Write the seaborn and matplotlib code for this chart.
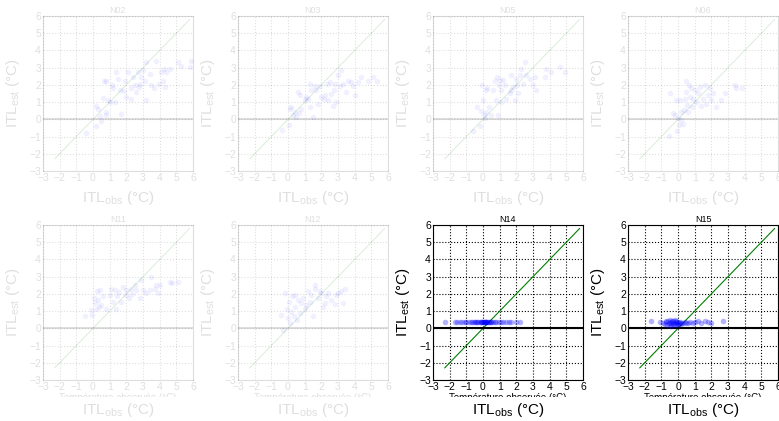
import matplotlib
matplotlib.use("Agg")
import pandas as pd
import matplotlib.pyplot as plt
import seaborn as sns
from matplotlib.patches import Rectangle

# station panels, in grid order
STATIONS = ["N02", "N03", "N05", "N06", "N11", "N12", "N14", "N15"]
HIGHLIGHT = ["N14", "N15"]
TICKS = [-3, -2, -1, 0, 1, 2, 3, 4, 5, 6]
DIAG = [-2.3, 5.8]

n02_obs = [-0.4, 0.2, 0.2, 0.3, 0.4, 0.5, 0.6, 0.65, 0.75, 0.8, 0.75, 0.9, 1.0, 1.15, 1.3, 1.4,
           1.2, 1.5, 1.6, 1.7, 1.85, 1.9, 2.0, 2.1, 2.25, 2.3, 2.4, 2.5, 2.6, 2.7, 2.75, 2.8,
           2.9, 3.0, 3.1, 3.2, 3.2, 3.4, 3.5, 3.65, 3.8, 3.95, 4.1, 4.2, 4.25, 4.3, 4.4, 4.6,
           5.1, 5.3, 5.8, 5.9]
n02_est = [-0.8, -0.4, 0.75, 0.6, 0.2, -0.1, 1.25, 2.2, 2.25, 0.4, 0.25, 1.1, 1.0, 2.0, 1.0, 2.75,
           1.8, 2.35, 1.7, 0.3, 1.65, 2.25, 1.3, 2.75, 1.8, 1.2, 2.45, 2.0, 1.6, 2.75, 1.85, 2.05,
           2.45, 2.85, 2.25, 1.1, 3.3, 2.65, 2.0, 1.8, 3.4, 2.05, 2.75, 2.25, 2.95, 1.9, 2.75, 2.95,
           3.3, 3.1, 3.05, 3.4]

n03_obs = [-0.35, 0.05, 0.1, 0.2, 0.3, 0.4, 0.5, 0.6, 0.65, 0.7, 0.8, 1.0, 1.1, 1.2, 1.3, 1.35,
           1.4, 1.5, 1.6, 1.7, 1.8, 1.9, 2.0, 2.15, 2.25, 2.35, 2.4, 2.5, 2.6, 2.7, 2.75, 2.8,
           2.9, 3.0, 3.1, 3.2, 3.3, 3.5, 3.6, 3.8, 3.9, 4.0, 4.2, 4.4, 4.8, 5.1, 5.35]
n03_est = [-0.6, -0.35, 0.6, 0.7, 0.25, 0.4, 0.15, 1.6, 0.35, 1.4, 0.6, 1.1, 1.3, 1.2, 2.05, 0.7,
           1.7, 0.15, 1.95, 1.7, 0.9, 1.95, 1.3, 1.2, 1.4, 2.05, 1.1, 2.15, 1.45, 0.8, 1.7, 2.05,
           1.0, 2.55, 1.95, 2.85, 2.05, 1.6, 2.25, 2.15, 1.95, 1.4, 2.15, 2.45, 2.25, 2.45, 2.2]

n05_obs = [-0.6, -0.35, -0.2, -0.1, -0.05, 0.0, 0.05, 0.1, 0.15, 0.2, 0.25, 0.35, 0.5, 0.6, 0.7, 0.75,
           0.85, 0.9, 0.95, 1.0, 1.05, 1.1, 1.2, 1.3, 1.4, 1.6, 1.65, 1.7, 1.8, 1.9, 1.95, 2.05,
           2.1, 2.2, 2.3, 2.4, 2.5, 2.6, 2.8, 3.0, 3.1, 3.2, 3.7, 3.8, 4.1, 4.6, 4.9]
n05_est = [-0.7, 0.7, -0.4, 0.5, 2.0, 1.1, 0.25, 0.05, 1.7, 0.4, 1.8, 0.7, 0.25, 1.7, 2.25, 1.1,
           2.45, 0.25, 2.0, 2.3, 1.0, 1.7, 2.3, 2.0, 1.2, 1.5, 1.7, 2.55, 1.9, 1.1, 2.35, 2.0,
           1.5, 2.55, 2.95, 2.05, 3.35, 2.55, 2.35, 2.0, 2.45, 1.7, 2.45, 2.95, 2.75, 3.05, 2.75]

n06_obs = [-0.55, -0.5, -0.3, -0.2, -0.15, -0.05, 0.0, 0.05, 0.1, 0.15, 0.2, 0.3, 0.35, 0.4, 0.45, 0.5,
           0.55, 0.6, 0.65, 0.7, 0.8, 0.85, 0.9, 1.0, 1.1, 1.2, 1.3, 1.4, 1.5, 1.6, 1.7, 1.8,
           1.9, 2.0, 2.1, 2.3, 2.6, 2.8, 3.4, 3.5, 3.85]
n06_est = [-0.95, 1.5, 0.35, 0.25, 1.1, -0.65, 0.05, -0.35, 1.1, 0.45, -0.05, -0.25, 0.55, 1.2, 2.25, 1.6,
           0.85, 0.45, 2.0, 1.3, 1.8, 0.7, 1.2, 1.7, 1.0, 1.5, 1.9, 0.8, 1.2, 2.0, 0.9, 1.4,
           1.8, 1.1, 1.5, 0.7, 1.1, 1.5, 2.0, 1.8, 1.8]

n11_obs = [-0.5, -0.1, -0.05, 0.05, 0.1, 0.15, 0.25, 0.3, 0.35, 0.4, 0.5, 0.6, 0.8, 1.0, 1.1, 1.2,
           1.3, 1.35, 1.45, 1.55, 1.7, 1.8, 1.95, 2.0, 2.15, 2.25, 2.35, 2.5, 2.6, 2.8, 2.9, 3.0,
           3.2, 3.4, 3.5, 3.7, 3.8, 3.9, 4.0, 4.6, 4.75, 5.1]
n11_est = [0.7, 1.05, 0.8, 1.75, 1.45, 1.15, 2.15, 1.65, 1.25, 2.25, 1.35, 1.85, 1.15, 1.95, 2.3, 1.55,
           2.2, 1.15, 1.85, 2.1, 1.55, 2.4, 2.2, 1.95, 1.75, 2.3, 2.0, 2.5, 2.2, 1.75, 2.8, 2.2,
           2.05, 2.2, 3.0, 2.3, 2.5, 2.05, 2.5, 2.7, 2.65, 2.7]

n12_obs = [-0.4, -0.3, -0.15, -0.05, 0.0, 0.05, 0.1, 0.2, 0.25, 0.35, 0.4, 0.45, 0.55, 0.6, 0.7, 0.8,
           0.9, 1.0, 1.1, 1.2, 1.3, 1.4, 1.5, 1.6, 1.65, 1.8, 1.9, 2.0, 2.1, 2.2, 2.3, 2.4,
           2.6, 2.8, 2.9, 3.0, 3.2, 3.3, 3.4]
n12_est = [0.8, -0.1, 2.05, 1.15, 0.6, 1.55, 0.3, 0.95, 1.85, 0.7, 1.95, 1.25, 0.5, 1.65, 0.9, 1.45,
           1.75, 1.15, 1.35, 2.15, 1.55, 1.95, 0.7, 2.5, 2.3, 1.75, 2.15, 2.05, 1.25, 1.45, 1.85, 2.05,
           1.65, 1.4, 1.95, 2.05, 2.15, 1.45, 2.3]

n14_obs = [-2.3, -1.7, -1.55, -1.4, -1.25, -1.1, -1.0, -0.85, -0.75, -0.65, -0.55, -0.5, -0.4, -0.35,
           -0.3, -0.2, -0.15, -0.1, -0.05, 0.0, 0.0, 0.05, 0.1, 0.1, 0.15, 0.2, 0.2, 0.25, 0.3, 0.35,
           0.4, 0.45, 0.5, 0.6, 0.7, 0.8, 0.95, 1.05, 1.2, 1.35, 1.55, 1.7, 2.0, 2.2]
n14_est = [0.38, 0.38, 0.37, 0.38, 0.37, 0.38, 0.36, 0.38, 0.37, 0.38, 0.36, 0.39, 0.37, 0.35,
           0.38, 0.36, 0.39, 0.35, 0.37, 0.38, 0.35, 0.37, 0.39, 0.36, 0.37, 0.35, 0.38, 0.37, 0.36, 0.38,
           0.37, 0.38, 0.36, 0.37, 0.38, 0.37, 0.38, 0.37, 0.38, 0.37, 0.38, 0.37, 0.38, 0.38]

n15_obs = [-1.6, -1.1, -0.9, -0.8, -0.75, -0.7, -0.65, -0.6, -0.55, -0.5, -0.5, -0.45, -0.4, -0.4,
           -0.35, -0.3, -0.3, -0.25, -0.2, -0.2, -0.15, -0.1, -0.1, -0.05, 0.0, 0.0, 0.05, 0.1, 0.15,
           0.2, 0.3, 0.4, 0.5, 0.6, 0.7, 0.9, 1.0, 1.2, 1.4, 1.6, 1.8, 2.0, 2.7]
n15_est = [0.4, 0.38, 0.3, 0.25, 0.45, 0.35, 0.2, 0.42, 0.3, 0.5, 0.22, 0.38, 0.3, 0.15,
           0.45, 0.25, 0.4, 0.32, 0.2, 0.48, 0.35, 0.28, 0.42, 0.3, 0.22, 0.38, 0.3, 0.35, 0.28,
           0.33, 0.3, 0.35, 0.32, 0.33, 0.35, 0.33, 0.36, 0.4, 0.33, 0.45, 0.35, 0.33, 0.42]

OBS = [n02_obs, n03_obs, n05_obs, n06_obs, n11_obs, n12_obs, n14_obs, n15_obs]
EST = [n02_est, n03_est, n05_est, n06_est, n11_est, n12_est, n14_est, n15_est]

sns.set_style("whitegrid")
plt.rcParams["font.family"] = ["Liberation Sans", "DejaVu Sans"]
plt.rcParams["mathtext.fontset"] = "custom"
plt.rcParams["mathtext.rm"] = "Liberation Sans"
plt.rcParams["axes.unicode_minus"] = True

W, H = 779, 421
fig = plt.figure(figsize=(W / 100, H / 100), dpi=100)

# layout in pixels (figure is cropped on the right like the original)
LEFTS = [43, 238, 433, 628]
TOPS = [16, 225]
AW, AH = 150, 155

# white band hiding most of the long french x label under each row
for y0, y1 in [(184, 207), (397, H)]:
    fig.add_artist(Rectangle((0, 1 - y1 / H), 1, (y1 - y0) / H, transform=fig.transFigure,
                             facecolor="white", edgecolor="none", zorder=5))

for i, name in enumerate(STATIONS):
    r, c = divmod(i, 4)
    left, top = LEFTS[c], TOPS[r]
    ax = fig.add_axes([left / W, 1 - (top + AH) / H, AW / W, AH / H])
    faded = name not in HIGHLIGHT
    a = 0.13 if faded else 1.0
    ink = (0, 0, 0, a)

    df = pd.DataFrame({"obs": OBS[i], "est": EST[i]})
    sns.scatterplot(data=df, x="obs", y="est", ax=ax, color="b", s=16, linewidth=0,
                    alpha=0.06 if faded else 0.3, zorder=3)
    sns.lineplot(x=DIAG, y=DIAG, ax=ax, color="g", lw=0.8, alpha=a, zorder=2)
    ax.axhline(0, color="black", alpha=a, lw=1.5, zorder=2)

    ax.set_xlim(-3, 6)
    ax.set_ylim(-3, 6)
    ax.set_xticks(TICKS)
    ax.set_yticks(TICKS)
    ax.grid(True, color="black", alpha=a, linestyle=":", lw=0.8)
    for sp in ax.spines.values():
        sp.set_color(ink)
        sp.set_linewidth(0.8)
    ax.tick_params(labelsize=7.5, labelcolor=ink, color=ink, direction="in", length=2, pad=1.5)
    ax.set_title(name, fontsize=6.5, color=ink, pad=2)
    ax.set_xlabel("")
    ax.set_ylabel("")

    # the original x label, mostly covered by the white band
    ax.text(0.5, -0.081, "Température observée (°C)", transform=ax.transAxes, ha="center",
            va="top", fontsize=7, color=ink)
    ax.text(-0.2, 0.5, "ITL$_{\\mathrm{est}}$ (°C)", transform=ax.transAxes, rotation=90,
            ha="center", va="center", fontsize=11, color=ink)
    ypix = 198 if r == 0 else 410
    fig.text((left + AW / 2) / W, 1 - ypix / H, "ITL$_{\\mathrm{obs}}$ (°C)",
             ha="center", va="center", fontsize=11, color=ink, zorder=10)

fig.savefig("out.png", dpi=100)
